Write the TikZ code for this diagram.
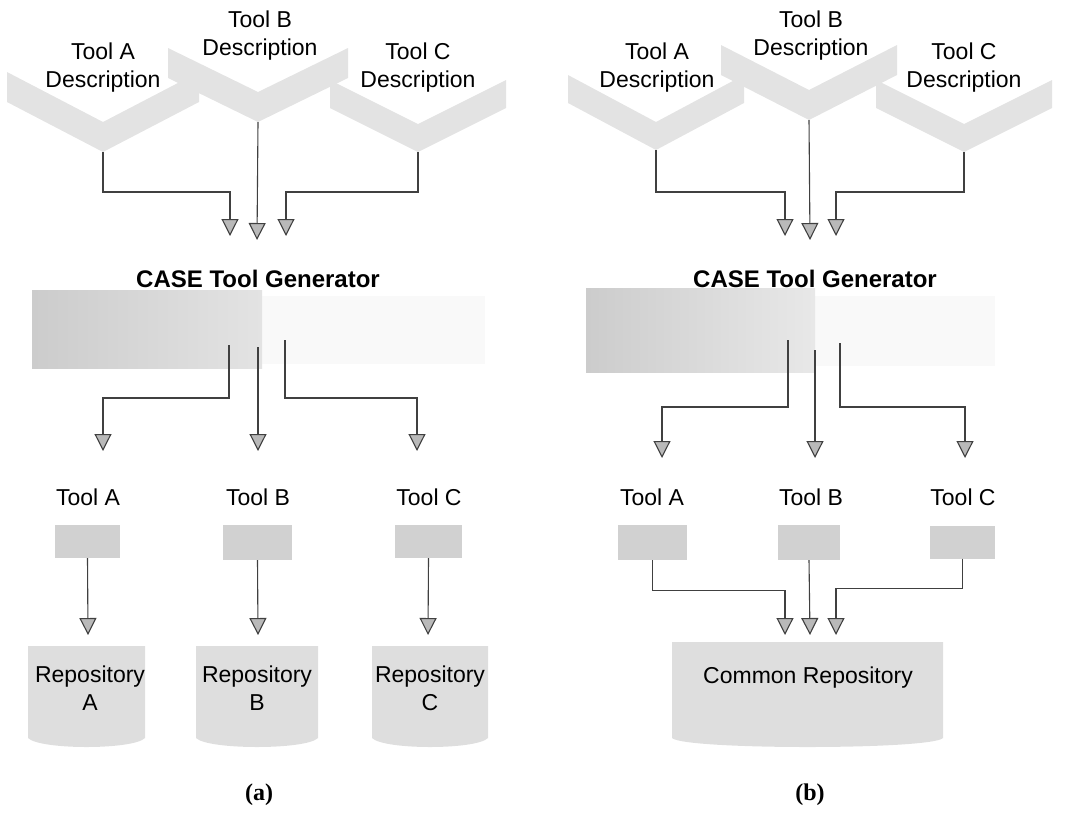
\documentclass[tikz,border=0pt]{standalone}
\usepackage{fontspec}
\setmainfont{Liberation Sans}
\newfontfamily\capfont{Liberation Serif}
\usetikzlibrary{arrows.meta,calc}
\newcommand\vband[5]{\fill[gray!22] (#1-#3,#4) -- (#1,#2-#5) -- (#1+#3,#4) -- (#1+#3,#4+#5) -- (#1,#2) -- (#1-#3,#4+#5) -- cycle;}
\newcommand\repobody[4]{\fill[gray!26] (#1,#3) -- (#2,#3) -- (#2,#4-14) .. controls (#2-12,#4-2) and (#1+12,#4-2) .. (#1,#4-14) -- cycle;}
\begin{document}
\begin{tikzpicture}[x=1pt,y=-1pt,
  lbl/.style={font=\fontsize{23}{28}\selectfont, align=center, inner sep=0pt},
  gentext/.style={font=\fontsize{24}{28}\selectfont\bfseries, inner sep=0pt},
  toolbox/.style={fill=gray!36, draw=none, inner sep=0pt},
  wire/.style={draw=black!75, line width=1.1pt},
  conn/.style={wire, -{Triangle[width=17pt,length=17pt,fill=gray!55]}},
  captext/.style={font=\capfont\bfseries\fontsize{24}{26}\selectfont, inner sep=0pt}
]
\useasboundingbox (0,0) rectangle (1067,812);

% ================= panel (a) =================
\vband{103}{152}{96}{72}{30}
\vband{258}{122}{90}{48}{30}
\vband{418}{152}{88}{80}{28}
\node[lbl] (dA) at (103,68) {Tool A\\Description};
\node[lbl] (dB) at (260,36) {Tool B\\Description};
\node[lbl] (dC) at (418,68) {Tool C\\Description};
\coordinate (tA) at (103,152);
\coordinate (tB) at (258,122);
\coordinate (tC) at (418,152);
\coordinate (gA) at (230,236);
\coordinate (gB) at (257,240);
\coordinate (gC) at (286,236);
\draw[conn] (tA) -- ++(0,40) -| (gA);
\draw[conn] (tB) -- (gB);
\draw[conn] (tC) -- ++(0,40) -| (gC);

\node[gentext, anchor=base] (gen) at (258,287) {CASE Tool Generator};
\fill[gray!5] (32,296) rectangle (485,364);
\shade[left color=gray!40, right color=gray!22] (32,290) rectangle (262,368);
\coordinate (sA) at (229,345);
\coordinate (sB) at (258,347);
\coordinate (sC) at (285,340);
\coordinate (kA) at (103,451);
\coordinate (kB) at (258,451);
\coordinate (kC) at (417,451);
\draw[conn] (sA) -- ++(0,53) -| (kA);
\draw[conn] (sB) -- (kB);
\draw[conn] (sC) -- ++(0,58) -| (kC);

\node[lbl, anchor=base] (lA) at (88,505) {Tool A};
\node[lbl, anchor=base] (lB) at (258,505) {Tool B};
\node[lbl, anchor=base] (lC) at (429,505) {Tool C};
\node[toolbox, minimum width=65pt, minimum height=33pt] (bA) at (87.5,541.5) {};
\node[toolbox, minimum width=69pt, minimum height=35pt] (bB) at (257.5,542.5) {};
\node[toolbox, minimum width=67pt, minimum height=33pt] (bC) at (428.5,541.5) {};

\repobody{28}{145}{646}{752}
\repobody{196}{318}{646}{752}
\repobody{372}{488}{646}{752}
\node[lbl] (rA) at (90,688) {Repository\\A};
\node[lbl] (rB) at (257,688) {Repository\\B};
\node[lbl] (rC) at (430,688) {Repository\\C};
\coordinate (pA) at (88,635);
\coordinate (pB) at (258,635);
\coordinate (pC) at (428,635);
\draw[conn] (bA.south) -- (pA);
\draw[conn] (bB.south) -- (pB);
\draw[conn] (bC.south) -- (pC);

\node[captext, anchor=base] (capa) at (259,800) {(a)};

% ================= panel (b) =================
\vband{656}{150}{88}{75}{28}
\vband{809}{120}{88}{45}{30}
\vband{964}{152}{88}{80}{28}
\node[lbl] (dA2) at (657,68) {Tool A\\Description};
\node[lbl] (dB2) at (811,36) {Tool B\\Description};
\node[lbl] (dC2) at (964,68) {Tool C\\Description};
\coordinate (tA2) at (656,150);
\coordinate (tB2) at (809,120);
\coordinate (tC2) at (964,152);
\coordinate (gA2) at (785,236);
\coordinate (gB2) at (810,240);
\coordinate (gC2) at (836,236);
\draw[conn] (tA2) -- ++(0,42) -| (gA2);
\draw[conn] (tB2) -- (gB2);
\draw[conn] (tC2) -- ++(0,40) -| (gC2);

\node[gentext, anchor=base] (gen2) at (815,287) {CASE Tool Generator};
\fill[gray!5] (586,296) rectangle (995,366);
\shade[left color=gray!40, right color=gray!18] (586,288) rectangle (815,372);
\coordinate (sA2) at (788,340);
\coordinate (sB2) at (815,350);
\coordinate (sC2) at (840,343);
\coordinate (kA2) at (662,458);
\coordinate (kB2) at (815,458);
\coordinate (kC2) at (965,458);
\draw[conn] (sA2) -- ++(0,67) -| (kA2);
\draw[conn] (sB2) -- (kB2);
\draw[conn] (sC2) -- ++(0,64) -| (kC2);

\node[lbl, anchor=base] (lA2) at (652,505) {Tool A};
\node[lbl, anchor=base] (lB2) at (811,505) {Tool B};
\node[lbl, anchor=base] (lC2) at (963,505) {Tool C};
\node[toolbox, minimum width=69pt, minimum height=35pt] (bA2) at (652.5,542.5) {};
\node[toolbox, minimum width=62pt, minimum height=35pt] (bB2) at (809,542.5) {};
\node[toolbox, minimum width=65pt, minimum height=33pt] (bC2) at (962.5,542) {};

\repobody{672}{943}{642}{752}
\node[lbl, anchor=base] (cr) at (808,683) {Common Repository};
\coordinate (pA2) at (785,635);
\coordinate (pB2) at (810,635);
\coordinate (pC2) at (836,635);
\draw[conn] (bA2.south) -- ++(0,30) -| (pA2);
\draw[conn] (bB2.south) -- (pB2);
\draw[conn] (bC2.south) -- ++(0,30) -| (pC2);

\node[captext, anchor=base] (capb) at (810,800) {(b)};
\end{tikzpicture}
\end{document}
